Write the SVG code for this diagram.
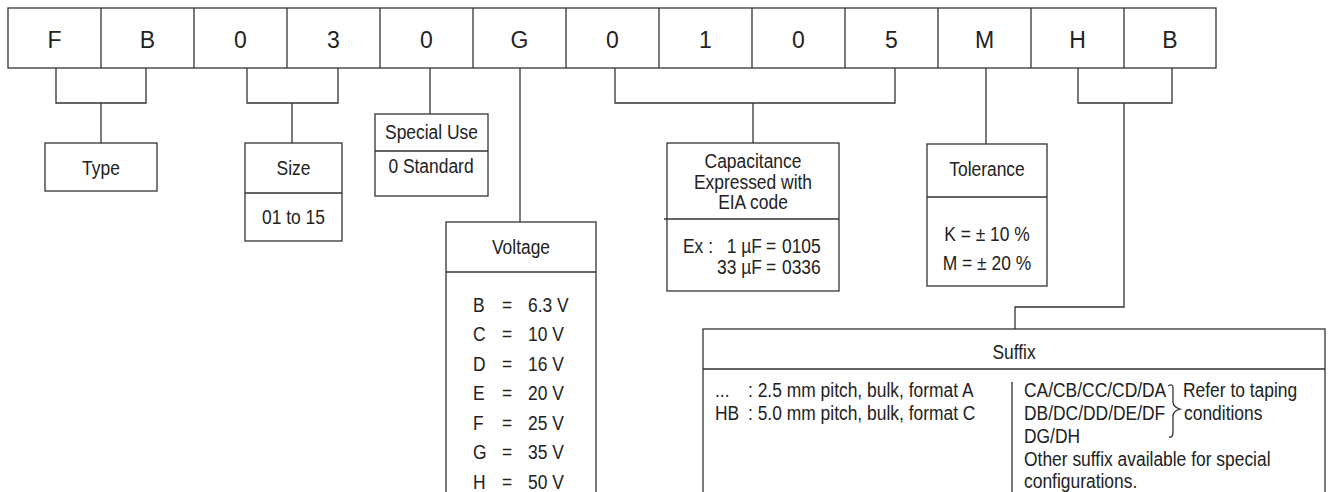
<svg xmlns="http://www.w3.org/2000/svg" width="1330" height="492" viewBox="0 0 1330 492">
<style>
.ln{fill:none;stroke:#333;stroke-width:1.3}
.bx{fill:#fff;stroke:#333;stroke-width:1.3}
.big{font-family:"Liberation Sans",Arial,sans-serif;font-size:23px;fill:#222;text-anchor:middle}
.t{font-family:"Liberation Sans",Arial,sans-serif;font-size:21px;fill:#222}
.c{text-anchor:middle}
.e{text-anchor:end}
</style>
<rect width="1330" height="492" fill="#fff"/>
<g id="code">
<rect class="bx" x="8" y="8" width="1208" height="60"/>
<path class="ln" d="M101,8V68M194,8V68M287,8V68M380,8V68M473,8V68M566,8V68M659,8V68M752,8V68M845,8V68M938,8V68M1031,8V68M1124,8V68"/>
<text class="big" x="54.5" y="48">F</text>
<text class="big" x="147.5" y="48">B</text>
<text class="big" x="240.5" y="48">0</text>
<text class="big" x="333.5" y="48">3</text>
<text class="big" x="426.5" y="48">0</text>
<text class="big" x="519.5" y="48">G</text>
<text class="big" x="612.5" y="48">0</text>
<text class="big" x="705.5" y="48">1</text>
<text class="big" x="798.5" y="48">0</text>
<text class="big" x="891.5" y="48">5</text>
<text class="big" x="984.5" y="48">M</text>
<text class="big" x="1077.5" y="48">H</text>
<text class="big" x="1170" y="48">B</text>
</g>
<g id="connectors">
<path class="ln" d="M56,68V103H146V68M101,103V143"/>
<path class="ln" d="M247,68V103H338V68M292,103V143"/>
<path class="ln" d="M430,68V114"/>
<path class="ln" d="M520,68V222"/>
<path class="ln" d="M615,68V103H895V68M753,103V143"/>
<path class="ln" d="M986,68V144"/>
<path class="ln" d="M1078,68V103H1172V68M1124,103V307H1015V329"/>
</g>
<g id="type">
<rect class="bx" x="45" y="143" width="112" height="48"/>
<text class="t c" transform="translate(101 174.5) scale(0.83 1)">Type</text>
</g>
<g id="size">
<rect class="bx" x="245" y="143" width="97" height="98"/>
<path class="ln" d="M245,193H342"/>
<text class="t c" transform="translate(293.5 174.5) scale(0.83 1)">Size</text>
<text class="t c" transform="translate(293.5 224) scale(0.83 1)">01 to 15</text>
</g>
<g id="special">
<rect class="bx" x="375" y="114" width="113" height="82"/>
<path class="ln" d="M375,151H488"/>
<text class="t c" transform="translate(431.5 139) scale(0.83 1)">Special Use</text>
<text class="t c" transform="translate(431 172.5) scale(0.83 1)">0 Standard</text>
</g>
<g id="voltage">
<rect class="bx" x="446" y="222" width="150" height="290"/>
<path class="ln" d="M446,272H596"/>
<text class="t c" transform="translate(521 253.5) scale(0.83 1)">Voltage</text>
<text class="t" transform="translate(473 311.5) scale(0.83 1)">B</text><text class="t c" transform="translate(507 311.5) scale(0.83 1)">=</text><text class="t" transform="translate(528 311.5) scale(0.83 1)">6.3 V</text>
<text class="t" transform="translate(473 341) scale(0.83 1)">C</text><text class="t c" transform="translate(507 341) scale(0.83 1)">=</text><text class="t" transform="translate(528 341) scale(0.83 1)">10 V</text>
<text class="t" transform="translate(473 370.5) scale(0.83 1)">D</text><text class="t c" transform="translate(507 370.5) scale(0.83 1)">=</text><text class="t" transform="translate(528 370.5) scale(0.83 1)">16 V</text>
<text class="t" transform="translate(473 400) scale(0.83 1)">E</text><text class="t c" transform="translate(507 400) scale(0.83 1)">=</text><text class="t" transform="translate(528 400) scale(0.83 1)">20 V</text>
<text class="t" transform="translate(473 429.5) scale(0.83 1)">F</text><text class="t c" transform="translate(507 429.5) scale(0.83 1)">=</text><text class="t" transform="translate(528 429.5) scale(0.83 1)">25 V</text>
<text class="t" transform="translate(473 459) scale(0.83 1)">G</text><text class="t c" transform="translate(507 459) scale(0.83 1)">=</text><text class="t" transform="translate(528 459) scale(0.83 1)">35 V</text>
<text class="t" transform="translate(473 488.5) scale(0.83 1)">H</text><text class="t c" transform="translate(507 488.5) scale(0.83 1)">=</text><text class="t" transform="translate(528 488.5) scale(0.83 1)">50 V</text>
</g>
<g id="capacitance">
<rect class="bx" x="667" y="143" width="172" height="148"/>
<path class="ln" d="M664,219H839"/>
<text class="t c" transform="translate(753 167.5) scale(0.83 1)">Capacitance</text>
<text class="t c" transform="translate(753 188.5) scale(0.83 1)">Expressed with</text>
<text class="t c" transform="translate(753 209) scale(0.83 1)">EIA code</text>
<text class="t" transform="translate(683 252.5) scale(0.83 1)">Ex :</text>
<text class="t e" transform="translate(762 252.5) scale(0.83 1)">1 µF</text>
<text class="t c" transform="translate(771 252.5) scale(0.83 1)">=</text>
<text class="t" transform="translate(782 252.5) scale(0.83 1)">0105</text>
<text class="t e" transform="translate(762 273.5) scale(0.83 1)">33 µF</text>
<text class="t c" transform="translate(771 273.5) scale(0.83 1)">=</text>
<text class="t" transform="translate(782 273.5) scale(0.83 1)">0336</text>
</g>
<g id="tolerance">
<rect class="bx" x="927" y="144" width="120" height="142"/>
<path class="ln" d="M927,197H1047"/>
<text class="t c" transform="translate(987 175.5) scale(0.83 1)">Tolerance</text>
<text class="t c" transform="translate(987 240.5) scale(0.83 1)">K = ± 10 %</text>
<text class="t c" transform="translate(987 269.5) scale(0.83 1)">M = ± 20 %</text>
</g>
<g id="suffix">
<rect class="bx" x="703" y="329" width="622" height="190"/>
<path class="ln" d="M703,369H1325M1012,382V492"/>
<text class="t c" transform="translate(1014 359) scale(0.83 1)">Suffix</text>
<text class="t" transform="translate(715 397) scale(0.83 1)">...</text>
<text class="t" transform="translate(748 397) scale(0.83 1)">: 2.5 mm pitch, bulk, format A</text>
<text class="t" transform="translate(715 420) scale(0.83 1)">HB</text>
<text class="t" transform="translate(748 420) scale(0.83 1)">: 5.0 mm pitch, bulk, format C</text>
<text class="t" transform="translate(1024 397) scale(0.83 1)">CA/CB/CC/CD/DA</text>
<text class="t" transform="translate(1024 420) scale(0.83 1)">DB/DC/DD/DE/DF</text>
<text class="t" transform="translate(1024 443) scale(0.83 1)">DG/DH</text>
<text class="t" transform="translate(1024 466) scale(0.83 1)">Other suffix available for special</text>
<text class="t" transform="translate(1024 488) scale(0.83 1)">configurations.</text>
<path class="ln" d="M1168,386Q1173,383 1173,388V402Q1173,407 1180,409Q1173,411 1173,416V432Q1173,438 1169,437"/>
<text class="t" transform="translate(1183 397) scale(0.83 1)">Refer to taping</text>
<text class="t" transform="translate(1184 420) scale(0.83 1)">conditions</text>
</g>
</svg>
